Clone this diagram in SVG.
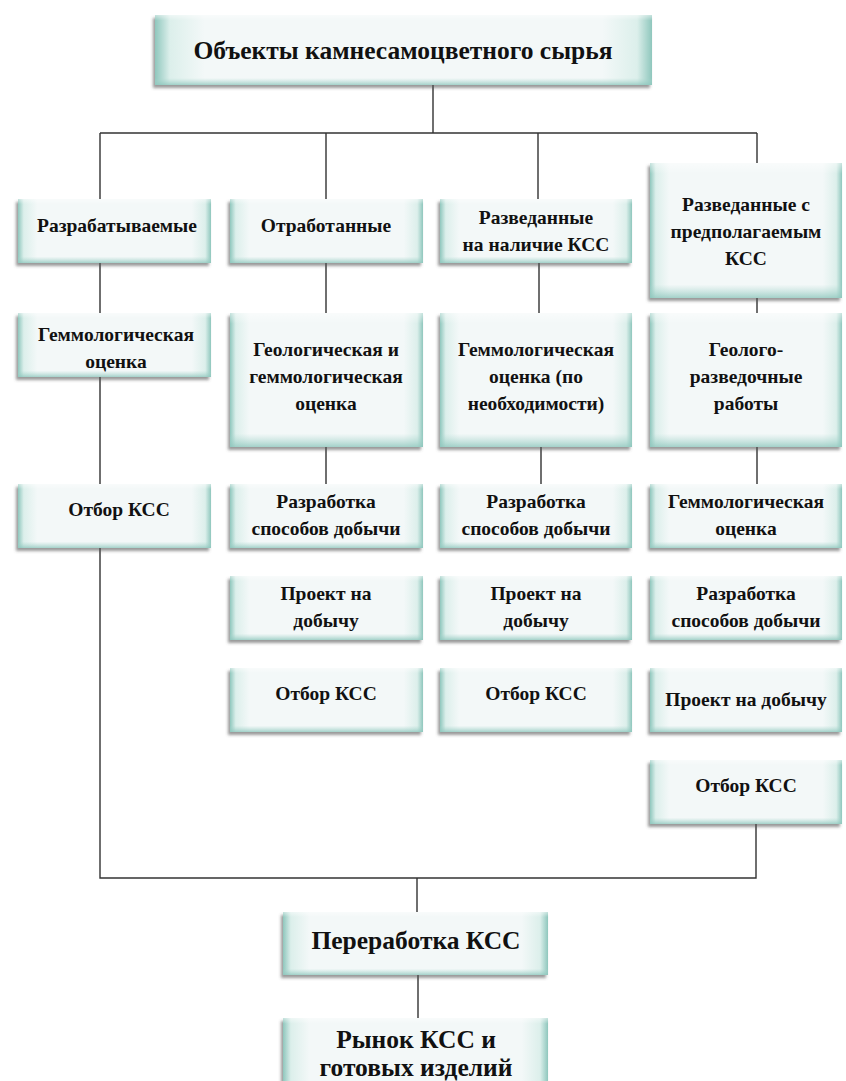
<svg xmlns="http://www.w3.org/2000/svg" width="846" height="1081" viewBox="0 0 846 1081">
<defs>
<linearGradient id="gh" x1="0" y1="0" x2="1" y2="0">
<stop offset="0" stop-color="#8fc7bd"/>
<stop offset="0.03" stop-color="#dcefeb"/>
<stop offset="0.1" stop-color="#f3f8f8"/>
<stop offset="0.9" stop-color="#f3f8f8"/>
<stop offset="0.97" stop-color="#dcefeb"/>
<stop offset="1" stop-color="#8fc7bd"/>
</linearGradient>
<linearGradient id="gv" x1="0" y1="0" x2="0" y2="1">
<stop offset="0" stop-color="#ffffff" stop-opacity="0.5"/>
<stop offset="0.08" stop-color="#ffffff" stop-opacity="0"/>
<stop offset="0.9" stop-color="#a9d6ce" stop-opacity="0"/>
<stop offset="1" stop-color="#8fc7bd" stop-opacity="0.8"/>
</linearGradient>
<filter id="sh" x="-10%" y="-10%" width="120%" height="130%">
<feDropShadow dx="-2" dy="3" stdDeviation="1.5" flood-color="#555" flood-opacity="0.6"/>
</filter>
</defs>
<style>
.b{fill:url(#gh);filter:url(#sh)}
.v{fill:url(#gv)}
text{font-family:'Liberation Serif','Times New Roman',serif;font-weight:bold;font-size:19.5px;fill:#111;text-anchor:middle}
.big{font-size:25.5px}
.c{stroke:#333;stroke-width:1.4;fill:none}
</style>
<rect width="846" height="1081" fill="#fff"/>
<g id="connectors">
<path class="c" d="M433 85V133M100 133H757M100 133V199M326 133V199M538 133V199M757 133V163"/>
<path class="c" d="M100 263V313M100 377V484M100 548V878H756V824M326 263V313M326 447V484M539 263V313M541 447V484M757 298V313M757 447V484"/>
<path class="c" d="M417 878V912M418 975V1018"/>
</g>
<g id="n0"><rect class="b" x="155" y="15" width="497" height="70"/><rect class="v" x="155" y="15" width="497" height="70"/><text class="big" x="403" y="59">Объекты камнесамоцветного сырья</text></g>
<g id="c1r1"><rect class="b" x="18" y="199" width="193" height="64"/><rect class="v" x="18" y="199" width="193" height="64"/><text x="117" y="232">Разрабатываемые</text></g>
<g id="c1r2"><rect class="b" x="18" y="313" width="193" height="64"/><rect class="v" x="18" y="313" width="193" height="64"/><text x="116" y="341">Геммологическая</text><text x="116" y="368">оценка</text></g>
<g id="c1r3"><rect class="b" x="18" y="484" width="193" height="64"/><rect class="v" x="18" y="484" width="193" height="64"/><text x="119" y="516">Отбор КСС</text></g>
<g id="c2r1"><rect class="b" x="230" y="199" width="193" height="64"/><rect class="v" x="230" y="199" width="193" height="64"/><text x="326" y="232">Отработанные</text></g>
<g id="c2r2"><rect class="b" x="230" y="313" width="193" height="134"/><rect class="v" x="230" y="313" width="193" height="134"/><text x="326" y="356">Геологическая и</text><text x="326" y="383">геммологическая</text><text x="326" y="410">оценка</text></g>
<g id="c2r3"><rect class="b" x="230" y="484" width="193" height="64"/><rect class="v" x="230" y="484" width="193" height="64"/><text x="326" y="508">Разработка</text><text x="326" y="535">способов добычи</text></g>
<g id="c2r4"><rect class="b" x="230" y="576" width="193" height="64"/><rect class="v" x="230" y="576" width="193" height="64"/><text x="326" y="600">Проект на</text><text x="326" y="627">добычу</text></g>
<g id="c2r5"><rect class="b" x="230" y="668" width="193" height="64"/><rect class="v" x="230" y="668" width="193" height="64"/><text x="326" y="700">Отбор КСС</text></g>
<g id="c3r1"><rect class="b" x="440" y="199" width="192" height="64"/><rect class="v" x="440" y="199" width="192" height="64"/><text x="536" y="224">Разведанные</text><text x="536" y="251">на наличие КСС</text></g>
<g id="c3r2"><rect class="b" x="440" y="313" width="192" height="134"/><rect class="v" x="440" y="313" width="192" height="134"/><text x="536" y="356">Геммологическая</text><text x="536" y="383">оценка (по</text><text x="536" y="410">необходимости)</text></g>
<g id="c3r3"><rect class="b" x="440" y="484" width="192" height="64"/><rect class="v" x="440" y="484" width="192" height="64"/><text x="536" y="508">Разработка</text><text x="536" y="535">способов добычи</text></g>
<g id="c3r4"><rect class="b" x="440" y="576" width="192" height="64"/><rect class="v" x="440" y="576" width="192" height="64"/><text x="536" y="600">Проект на</text><text x="536" y="627">добычу</text></g>
<g id="c3r5"><rect class="b" x="440" y="668" width="192" height="64"/><rect class="v" x="440" y="668" width="192" height="64"/><text x="536" y="700">Отбор КСС</text></g>
<g id="c4r1"><rect class="b" x="650" y="163" width="192" height="135"/><rect class="v" x="650" y="163" width="192" height="135"/><text x="746" y="211">Разведанные с</text><text x="746" y="238">предполагаемым</text><text x="746" y="265">КСС</text></g>
<g id="c4r2"><rect class="b" x="650" y="313" width="192" height="134"/><rect class="v" x="650" y="313" width="192" height="134"/><text x="746" y="356">Геолого-</text><text x="746" y="383">разведочные</text><text x="746" y="410">работы</text></g>
<g id="c4r3"><rect class="b" x="650" y="484" width="192" height="64"/><rect class="v" x="650" y="484" width="192" height="64"/><text x="746" y="508">Геммологическая</text><text x="746" y="535">оценка</text></g>
<g id="c4r4"><rect class="b" x="650" y="576" width="192" height="64"/><rect class="v" x="650" y="576" width="192" height="64"/><text x="746" y="600">Разработка</text><text x="746" y="627">способов добычи</text></g>
<g id="c4r5"><rect class="b" x="650" y="668" width="192" height="64"/><rect class="v" x="650" y="668" width="192" height="64"/><text x="746" y="706">Проект на добычу</text></g>
<g id="c4r6"><rect class="b" x="650" y="760" width="192" height="64"/><rect class="v" x="650" y="760" width="192" height="64"/><text x="746" y="792">Отбор КСС</text></g>
<g id="n_proc"><rect class="b" x="283" y="912" width="265" height="63"/><rect class="v" x="283" y="912" width="265" height="63"/><text class="big" x="416" y="949">Переработка КСС</text></g>
<g id="n_market"><rect class="b" x="283" y="1018" width="265" height="72"/><rect class="v" x="283" y="1018" width="265" height="72"/><text class="big" x="416" y="1048">Рынок КСС и</text><text class="big" x="416" y="1076">готовых изделий</text></g>
</svg>
